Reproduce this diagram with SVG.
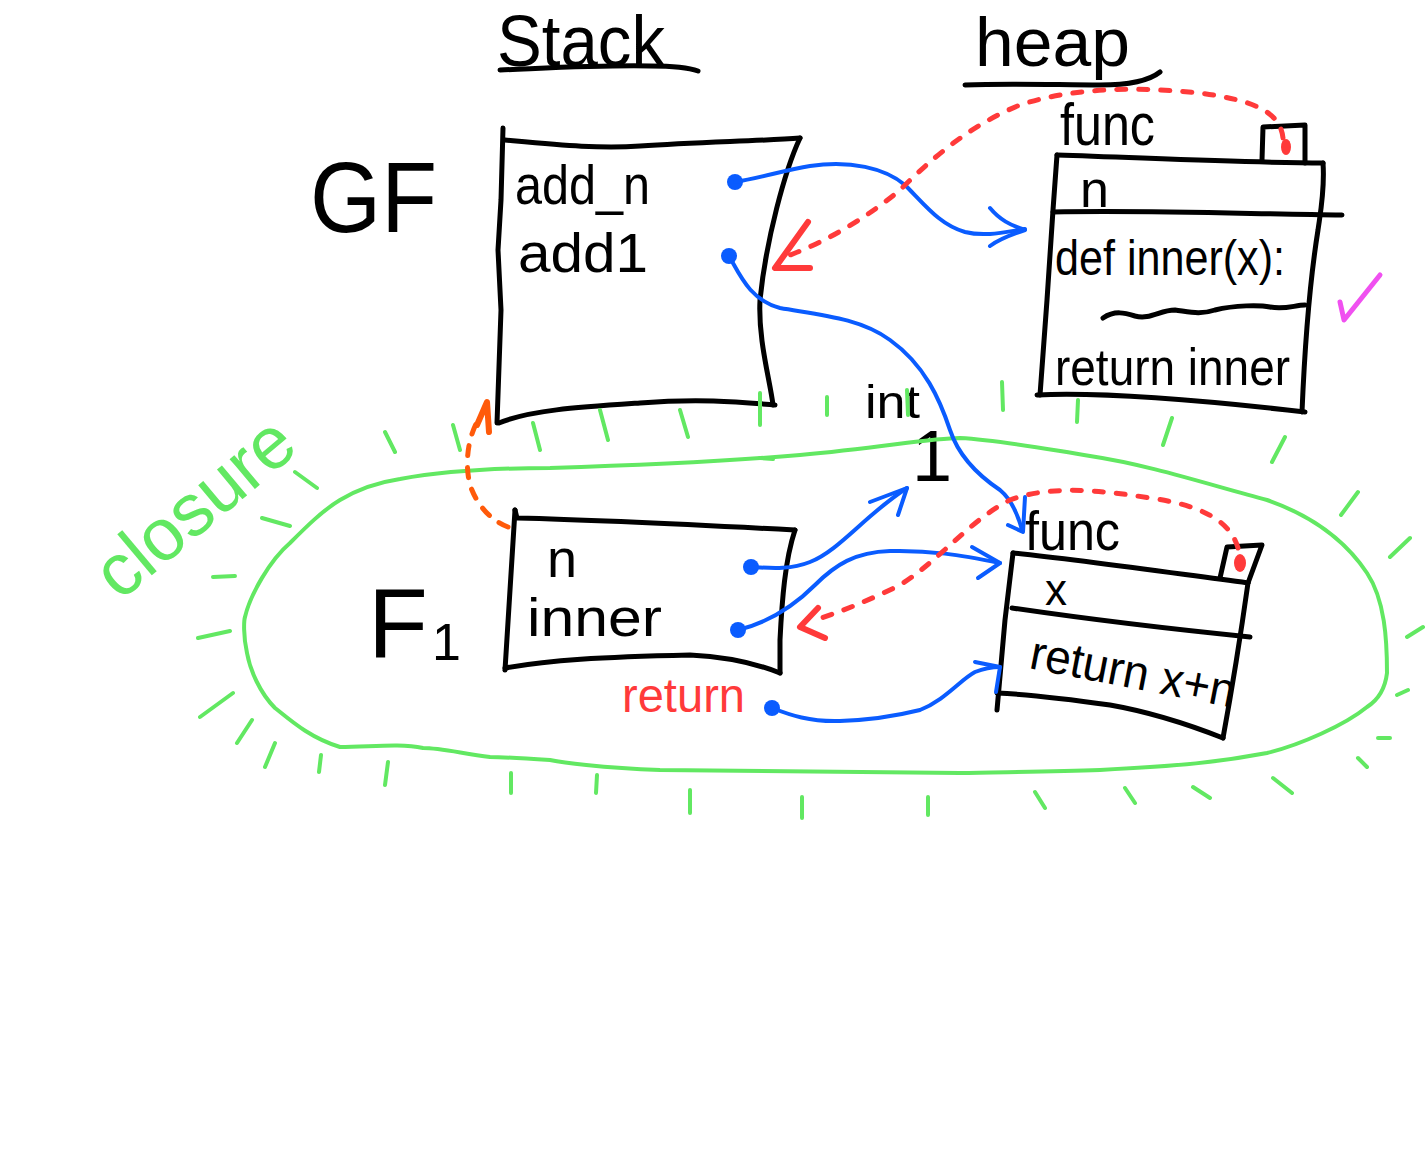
<svg xmlns="http://www.w3.org/2000/svg" width="1425" height="1165" viewBox="0 0 1425 1165">
<style>
.ink{fill:none;stroke:#000;stroke-width:5;stroke-linecap:round;stroke-linejoin:round}
.t{font-family:"Liberation Sans","DejaVu Sans",sans-serif;fill:#000}
.blue{fill:none;stroke:#0a5cff;stroke-width:4;stroke-linecap:round;stroke-linejoin:round}
.bdot{fill:#0a5cff}
.reddash{fill:none;stroke:#ff3a3a;stroke-width:5;stroke-dasharray:9 13;stroke-linecap:round}
.redhead{fill:none;stroke:#ff3a3a;stroke-width:6;stroke-linecap:round;stroke-linejoin:round}
.orangedash{fill:none;stroke:#ff5a0a;stroke-width:5;stroke-dasharray:10 12;stroke-linecap:round}
.orangehead{fill:none;stroke:#ff5a0a;stroke-width:6;stroke-linecap:round;stroke-linejoin:round}
.green{fill:none;stroke:#62e862;stroke-width:4;stroke-linecap:round;stroke-linejoin:round}
</style>
<rect width="1425" height="1165" fill="#fff"/>

<g id="title-stack">
<text class="t" x="497" y="66" font-size="72" textLength="168" lengthAdjust="spacingAndGlyphs">Stack</text>
<path class="ink" d="M500,70 C550,68 600,65 650,66 C675,66 690,68 698,71"/>
</g>

<g id="title-heap">
<text class="t" x="975" y="66" font-size="68" textLength="155" lengthAdjust="spacingAndGlyphs">heap</text>
<path class="ink" d="M965,85 C1010,83 1060,85 1100,85 C1130,85 1150,80 1160,72"/>
</g>

<g id="label-GF">
<text class="t" x="310" y="232" font-size="100" textLength="127" lengthAdjust="spacingAndGlyphs">GF</text>
</g>

<g id="frame-GF">
<path class="ink" d="M503,128 L501,200 L498,250 L501,310 L497,423"/>
<path class="ink" d="M505,140 C560,145 600,149 640,146 C700,142 760,141 800,138"/>
<path class="ink" d="M800,138 C785,170 766,240 760,300 C758,340 770,380 773,405"/>
<path class="ink" d="M775,405 C740,402 700,398 640,403 C580,407 530,410 499,423"/>
<text class="t" x="515" y="204" font-size="56" textLength="135" lengthAdjust="spacingAndGlyphs">add_n</text>
<text class="t" x="518" y="272" font-size="56" textLength="130" lengthAdjust="spacingAndGlyphs">add1</text>
</g>

<g id="heap-func-1">
<text class="t" x="1060" y="145" font-size="60" textLength="95" lengthAdjust="spacingAndGlyphs">func</text>
<path class="ink" d="M1262,160 L1263,127 L1305,125 L1305,163"/>
<path class="ink" d="M1057,155 C1150,158 1250,163 1323,163"/>
<path class="ink" d="M1323,163 C1325,190 1320,215 1318,230 C1310,280 1305,340 1302,412"/>
<path class="ink" d="M1037,395 C1100,392 1200,400 1305,412"/>
<path class="ink" d="M1057,155 L1053,210 L1047,300 L1040,395"/>
<path class="ink" d="M1053,212 C1150,210 1250,214 1342,215"/>
<path class="ink" d="M1103,318 C1115,310 1125,313 1135,316 C1150,320 1160,310 1175,310 C1190,312 1200,315 1215,310 C1235,305 1260,305 1270,307 C1285,310 1295,305 1305,305"/>
<text class="t" x="1080" y="207" font-size="52">n</text>
<text class="t" x="1055" y="275" font-size="50" textLength="230" lengthAdjust="spacingAndGlyphs">def inner(x):</text>
<text class="t" x="1055" y="385" font-size="52" textLength="235" lengthAdjust="spacingAndGlyphs">return inner</text>
<ellipse cx="1286" cy="147" rx="5" ry="8" fill="#ff3a3a"/>
<path d="M1340,302 L1344,320 L1380,275" fill="none" stroke="#f050f0" stroke-width="5" stroke-linecap="round" stroke-linejoin="round"/>
</g>

<g id="value-int">
<text class="t" x="865" y="418" font-size="46" textLength="55" lengthAdjust="spacingAndGlyphs">int</text>
<text class="t" x="912" y="481" font-size="72">1</text>
</g>

<g id="closure">
<path class="green" d="M550,468 C650,465 720,462 800,455 C880,448 930,438 960,438 C1000,440 1040,448 1090,456 C1150,465 1210,485 1267,500 C1310,515 1345,540 1367,573 C1385,600 1387,640 1387,673 C1385,690 1378,700 1367,707 C1345,725 1300,745 1267,753 C1220,762 1180,766 1100,770 C1050,772 1000,772 960,773 C860,772 760,771 660,770 C600,768 560,762 550,760 C520,758 500,757 490,757 C460,753 440,748 423,748 C400,743 370,747 340,747 C310,738 290,720 275,708 C260,693 250,670 247,653 C243,635 244,620 245,617 C250,595 270,560 290,543 C305,528 323,510 340,500 C360,488 380,482 400,479 C450,470 500,468 550,468 Z"/>
<path class="green" d="M760,458 L773,459 M385,432 L395,452 M453,425 L460,450 M533,423 L540,450 M600,410 L608,440 M680,410 L688,437 M760,393 L760,425 M827,397 L827,415 M907,390 L908,415 M1002,382 L1003,410 M1078,400 L1077,422 M1172,418 L1163,445 M1285,437 L1272,462 M1358,492 L1341,515 M1410,538 L1390,557 M1423,627 L1407,637 M1408,690 L1397,695 M1390,738 L1378,738 M1358,758 L1367,767 M1273,778 L1292,793 M1193,787 L1210,798 M1125,788 L1135,803 M1035,792 L1045,808 M928,797 L928,815 M802,797 L802,818 M690,790 L690,813 M597,775 L596,793 M511,773 L511,793 M385,785 L388,762 M319,772 L321,755 M265,767 L275,743 M237,743 L252,720 M200,717 L233,693 M198,638 L230,631 M213,577 L235,576 M262,518 L290,526 M295,472 L317,488"/>
<text x="120" y="602" font-family="Liberation Sans, DejaVu Sans, sans-serif" font-size="74" fill="#62e862" textLength="236" lengthAdjust="spacingAndGlyphs" transform="rotate(-40 120 602)">closure</text>
</g>

<g id="label-F1">
<text class="t" x="368" y="657" font-size="98">F<tspan font-size="52" dx="4" dy="3">1</tspan></text>
</g>

<g id="frame-F1">
<path class="ink" d="M515,510 L517,518 C600,520 700,525 795,530"/>
<path class="ink" d="M795,530 C785,560 782,600 780,640 L780,673"/>
<path class="ink" d="M505,668 C550,660 600,657 690,655 C730,657 760,665 780,673"/>
<path class="ink" d="M515,510 C512,560 508,620 505,670"/>
<text class="t" x="547" y="577" font-size="54">n</text>
<text class="t" x="527" y="636" font-size="54" textLength="135" lengthAdjust="spacingAndGlyphs">inner</text>
</g>

<g id="label-return">
<text x="622" y="712" font-family="Liberation Sans, DejaVu Sans, sans-serif" font-size="48" fill="#ff3a3a" textLength="123" lengthAdjust="spacingAndGlyphs">return</text>
</g>

<g id="heap-func-2">
<text class="t" x="1025" y="550" font-size="56" textLength="95" lengthAdjust="spacingAndGlyphs">func</text>
<path class="ink" d="M1013,553 C1080,560 1150,570 1248,583"/>
<path class="ink" d="M1220,578 L1227,547 L1262,545 L1248,583"/>
<path class="ink" d="M1248,583 C1240,640 1230,700 1223,738"/>
<path class="ink" d="M997,693 C1040,695 1075,700 1110,705 C1150,712 1190,725 1223,738"/>
<path class="ink" d="M1013,553 L1005,620 L997,710"/>
<path class="ink" d="M1012,608 C1080,618 1160,628 1250,637"/>
<text class="t" x="1045" y="605" font-size="44">x</text>
<text class="t" x="1028" y="668" font-size="48" textLength="208" lengthAdjust="spacingAndGlyphs" transform="rotate(11 1028 668)">return x+n</text>
<ellipse cx="1240" cy="563" rx="6" ry="9" fill="#ff3a3a"/>
</g>

<g id="connectors">
<circle class="bdot" cx="735" cy="182" r="8"/>
<path class="blue" d="M735,182 C760,178 785,170 810,166 C850,160 885,168 905,185 C925,205 940,225 965,232 C985,237 1005,232 1025,229"/>
<path class="blue" d="M990,208 C1000,220 1010,225 1025,230 C1010,235 998,240 990,246"/>

<circle class="bdot" cx="729" cy="256" r="8"/>
<path class="blue" d="M729,256 C740,275 750,300 780,308 C820,315 860,318 890,340 C925,365 940,400 950,430 C960,460 985,480 1000,490 C1012,500 1018,515 1022,530"/>
<path class="blue" d="M1008,525 L1023,532 L1025,497"/>

<circle class="bdot" cx="751" cy="567" r="8"/>
<path class="blue" d="M751,567 C770,568 790,570 810,562 C840,550 865,515 907,488"/>
<path class="blue" d="M870,502 L907,488 L898,515"/>

<circle class="bdot" cx="738" cy="630" r="8"/>
<path class="blue" d="M738,630 C770,622 795,605 815,585 C835,565 855,552 890,551 C930,550 960,555 1000,563"/>
<path class="blue" d="M972,547 L1000,563 L978,578"/>

<circle class="bdot" cx="772" cy="708" r="8"/>
<path class="blue" d="M772,708 C790,715 810,722 840,721 C870,720 900,715 920,710 C945,700 960,680 975,672 C985,668 995,667 1000,667"/>
<path class="blue" d="M975,662 L1000,667 L996,692"/>

<path class="reddash" d="M1283,138 C1280,110 1250,100 1200,93 C1150,88 1080,85 1020,105 C970,125 930,160 900,190 C870,215 830,240 790,255"/>
<path class="redhead" d="M808,222 L775,268 L810,268"/>

<path class="reddash" d="M1238,548 C1230,520 1200,505 1150,498 C1100,490 1050,485 1010,500 C970,520 940,560 900,585 C870,600 840,612 815,620"/>
<path class="redhead" d="M818,608 L800,627 L825,638"/>

<path class="orangedash" d="M508,527 C490,520 477,505 470,485 C465,465 467,440 478,420"/>
<path class="orangehead" d="M477,425 L487,402 L489,432"/>
</g>
</svg>
